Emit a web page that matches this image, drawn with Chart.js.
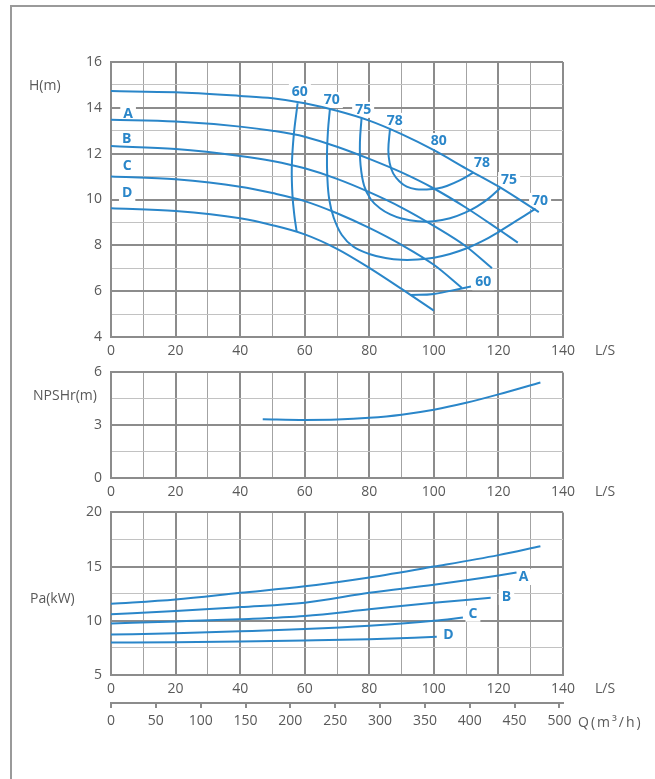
<!DOCTYPE html>
<html lang="zh">
<head>
<meta charset="UTF-8">
<title>Pump performance curves</title>
<script src="https://cdn.jsdelivr.net/npm/chart.js"></script>
<style>
  body { margin: 0; background: #fff; }
  #page { position: relative; width: 655px; height: 779px; overflow: hidden; }
  #frame { position: absolute; left: 10px; top: 5px; width: 700px; height: 800px;
           border-left: 2px solid #9a9a9a; border-top: 2px solid #9a9a9a; }
  canvas { position: absolute; left: 0; }
</style>
</head>
<body>
<div id="page">
  <div id="frame"></div>
  <canvas id="headChart" width="655" height="325" style="top:40px"></canvas>
  <canvas id="npshChart" width="655" height="151" style="top:355px"></canvas>
  <canvas id="powerChart" width="655" height="243" style="top:495px"></canvas>
</div>

<script>
// ---- head curves H(m) vs Q(L/S) ----
const headMaxQ = [0, 20, 40, 50, 60, 70, 80, 90, 100, 110, 120, 132.5];
const headMaxH = [14.73, 14.68, 14.52, 14.42, 14.2, 13.87, 13.44, 12.85, 12.15, 11.35, 10.57, 9.45];
const headAQ = [0, 20, 40, 50, 60, 70, 80, 90, 100, 110, 120, 126];
const headAH = [13.48, 13.4, 13.18, 13.0, 12.74, 12.3, 11.77, 11.18, 10.48, 9.64, 8.7, 8.12];
const headBQ = [0, 20, 40, 50, 60, 70, 80, 90, 100, 110, 118];
const headBH = [12.33, 12.2, 11.9, 11.68, 11.36, 10.9, 10.32, 9.65, 8.85, 7.95, 7.0];
const headCQ = [0, 20, 40, 50, 60, 70, 80, 90, 100, 108.7];
const headCH = [11.0, 10.88, 10.56, 10.28, 9.93, 9.4, 8.76, 8.02, 7.15, 6.14];
const headDQ = [0, 20, 40, 50, 60, 70, 80, 90, 100];
const headDH = [9.62, 9.5, 9.18, 8.88, 8.48, 7.85, 7.02, 6.1, 5.15];

// ---- iso-efficiency curves (%) ----
const eff60aQ = [57.8, 56.6, 56.0, 56.2, 56.8, 57.5];
const eff60aH = [14.2, 12.8, 11.4, 10.2, 9.3, 8.6];
const eff60bQ = [92.6, 100, 108.6, 111.5];
const eff60bH = [5.83, 5.88, 6.12, 6.2];
const eff70Q = [67.8, 67.2, 66.9, 67.0, 67.6, 69.0, 71.5, 75, 80, 85, 90, 95, 100, 105, 110, 115, 120, 125, 131.5];
const eff70H = [13.94, 13.0, 12.0, 11.0, 10.0, 9.2, 8.45, 7.95, 7.62, 7.45, 7.37, 7.38, 7.46, 7.62, 7.86, 8.18, 8.58, 9.02, 9.6];
const eff75Q = [77.6, 77.1, 77.3, 78.4, 80.5, 83.3, 86.5, 90, 95, 100, 105, 110, 113.3, 117, 120.5];
const eff75H = [13.54, 12.5, 11.5, 10.6, 10.0, 9.62, 9.35, 9.17, 9.05, 9.05, 9.18, 9.45, 9.69, 10.05, 10.49];
const eff78Q = [86.4, 85.9, 86.3, 87.4, 89.3, 91.6, 94.5, 97.8, 101, 104, 108, 112.2];
const eff78H = [13.06, 12.16, 11.6, 11.14, 10.8, 10.56, 10.45, 10.44, 10.48, 10.59, 10.83, 11.17];

const headLabels = ['60', '70', '75', '78', '80', '78', '75', '70', '60', 'A', 'B', 'C', 'D'];
const headLabelQ = [58.5, 68.4, 78.1, 87.9, 101.5, 114.9, 123.3, 132.9, 115.3, 5.3, 4.9, 5.0, 5.0];
const headLabelH = [14.69, 14.34, 13.91, 13.43, 12.55, 11.59, 10.85, 9.94, 6.39, 13.71, 12.63, 11.46, 10.28];

// ---- NPSHr ----
const npshQ = [47, 60, 70, 80, 90, 100, 110, 120, 133];
const npshH = [3.34, 3.3, 3.32, 3.42, 3.6, 3.88, 4.27, 4.75, 5.43];

// ---- shaft power Pa(kW) ----
const powMaxQ = [0, 20, 40, 60, 80, 100, 120, 133];
const powMaxP = [11.57, 11.97, 12.58, 13.18, 14.0, 15.0, 16.06, 16.88];
const powAQ = [0, 20, 40, 60, 80, 100, 120, 125.6];
const powAP = [10.6, 10.9, 11.27, 11.67, 12.58, 13.33, 14.18, 14.45];
const powBQ = [0, 20, 40, 60, 80, 100, 117.6];
const powBP = [9.76, 9.94, 10.15, 10.45, 11.06, 11.67, 12.12];
const powCQ = [0, 20, 40, 60, 80, 100, 109];
const powCP = [8.73, 8.85, 9.03, 9.24, 9.55, 10.0, 10.3];
const powDQ = [0, 20, 40, 60, 80, 100.9];
const powDP = [8.0, 8.03, 8.09, 8.18, 8.3, 8.52];

const powLabels = ['A', 'B', 'C', 'D'];
const powLabelQ = [127.8, 122.5, 112.1, 104.5];
const powLabelP = [14.04, 12.2, 10.65, 8.7];

// secondary flow axis in m3/h (140 L/S = 504 m3/h)
const cubicTicks = [0, 50, 100, 150, 200, 250, 300, 350, 400, 450, 500];

const BLUE = '#2a86c9';
const GREY_TXT = '#595959';
const FONT = "'Open Sans', 'DejaVu Sans', sans-serif";
const MAJOR = '#8c8c8c', MINOR_V = '#a3a3a3', MINOR_H = '#c2c2c2';

function curve(qs, hs, mono) {
  return {
    data: qs.map((q, i) => ({ x: q, y: hs[i] })),
    showLine: true, borderColor: BLUE, borderWidth: 2, pointRadius: 0,
    tension: 0.4, cubicInterpolationMode: mono ? 'monotone' : 'default',
    xAxisID: 'x', yAxisID: 'y'
  };
}

function flowAxis() {
  return {
    type: 'linear', min: 0, max: 140, position: 'bottom',
    afterFit: s => { s.height = 28; },
    ticks: { stepSize: 10, autoSkip: false, maxRotation: 0, padding: 6, color: GREY_TXT,
             font: { family: FONT, size: 14 }, callback: v => (v % 20 === 0 ? v : '') },
    grid: { drawTicks: false,
            color: c => (c.tick && c.tick.value % 20 === 0 ? MAJOR : MINOR_V),
            lineWidth: c => (c.tick && c.tick.value % 20 === 0 ? 2 : 1) },
    border: { color: MAJOR, width: 2 }
  };
}

function valueAxis(min, max, step, major) {
  return {
    type: 'linear', min: min, max: max,
    afterFit: s => { s.width = 40; },
    ticks: { stepSize: step, padding: 9, color: GREY_TXT, font: { family: FONT, size: 14 },
             callback: v => (Math.abs(v % major) < 1e-6 ? v : '') },
    grid: { drawTicks: false,
            color: c => (c.tick && Math.abs(c.tick.value % major) < 1e-6 ? MAJOR : MINOR_H),
            lineWidth: c => (c.tick && Math.abs(c.tick.value % major) < 1e-6 ? 2 : 1) },
    border: { color: MAJOR, width: 2 }
  };
}

// labels on the curves + axis titles
function annotations(texts, qs, vs, titles) {
  const boxes = (chart) => {
    const ctx = chart.ctx, sx = chart.scales.x, sy = chart.scales.y;
    ctx.save();
    ctx.font = 'bold 14px ' + FONT;
    texts.forEach((t, i) => {
      const x = sx.getPixelForValue(qs[i]), y = sy.getPixelForValue(vs[i]);
      const w = ctx.measureText(t).width;
      ctx.fillStyle = '#fff';
      ctx.fillRect(x - w / 2 - 3, y - 8, w + 6, 16);
    });
    ctx.restore();
  };
  return {
    id: 'annot',
    beforeDatasetsDraw(chart) { boxes(chart); },
    afterDatasetsDraw(chart) {
      const ctx = chart.ctx, sx = chart.scales.x, sy = chart.scales.y;
      ctx.save();
      ctx.font = 'bold 14px ' + FONT;
      ctx.fillStyle = BLUE;
      ctx.textAlign = 'center';
      ctx.textBaseline = 'middle';
      texts.forEach((t, i) => ctx.fillText(t, sx.getPixelForValue(qs[i]), sy.getPixelForValue(vs[i])));
      ctx.restore();
    },
    afterDraw(chart) {
      const ctx = chart.ctx;
      ctx.save();
      ctx.font = '14px ' + FONT;
      ctx.fillStyle = GREY_TXT;
      ctx.textAlign = 'left';
      ctx.textBaseline = 'middle';
      titles(chart).forEach(t => {
        if (t.spacing) ctx.letterSpacing = t.spacing;
        ctx.fillText(t.text, t.x, t.y);
        ctx.letterSpacing = '0px';
      });
      ctx.restore();
    }
  };
}

const baseOpts = {
  responsive: false, animation: false,
  plugins: { legend: { display: false }, tooltip: { enabled: false } }
};

// head chart
new Chart(document.getElementById('headChart'), {
  type: 'scatter',
  data: { datasets: [
    curve(headMaxQ, headMaxH, true), curve(headAQ, headAH, true), curve(headBQ, headBH, true),
    curve(headCQ, headCH, true), curve(headDQ, headDH, true),
    curve(eff60aQ, eff60aH), curve(eff60bQ, eff60bH), curve(eff70Q, eff70H),
    curve(eff75Q, eff75H), curve(eff78Q, eff78H)
  ] },
  options: Object.assign({}, baseOpts, {
    layout: { padding: { top: 22, left: 71, right: 92, bottom: 0 } },
    scales: { x: flowAxis(), y: valueAxis(4, 16, 1, 2) }
  }),
  plugins: [annotations(headLabels, headLabelQ, headLabelH, ch => [
    { text: 'H(m)', x: 29, y: 46 },
    { text: 'L/S', x: 595, y: ch.scales.x.top + 14 }
  ])]
});

// NPSHr chart
new Chart(document.getElementById('npshChart'), {
  type: 'scatter',
  data: { datasets: [curve(npshQ, npshH, true)] },
  options: Object.assign({}, baseOpts, {
    layout: { padding: { top: 14, left: 71, right: 92, bottom: 0 } },
    scales: { x: flowAxis(), y: valueAxis(0, 6, 1.5, 3) }
  }),
  plugins: [annotations([], [], [], ch => [
    { text: 'NPSHr(m)', x: 33, y: 41 },
    { text: 'L/S', x: 595, y: ch.scales.x.top + 14 }
  ])]
});

// power chart with secondary Q(m3/h) axis
const powerX = flowAxis();
powerX.weight = 0;
new Chart(document.getElementById('powerChart'), {
  type: 'scatter',
  data: { datasets: [
    curve(powMaxQ, powMaxP, true), curve(powAQ, powAP, true), curve(powBQ, powBP, true),
    curve(powCQ, powCP, true), curve(powDQ, powDP, true)
  ] },
  options: Object.assign({}, baseOpts, {
    layout: { padding: { top: 15, left: 71, right: 92, bottom: 0 } },
    scales: {
      x: powerX,
      x2: {
        type: 'linear', position: 'bottom', min: 0, max: 504, weight: 1,
        afterBuildTicks: s => { s.ticks = cubicTicks.map(v => ({ value: v })); },
        afterFit: s => { s.height = 35; },
        ticks: { autoSkip: false, maxRotation: 0, padding: 5, color: GREY_TXT,
                 font: { family: FONT, size: 14 } },
        grid: { drawOnChartArea: false, drawTicks: true, tickLength: 5, color: MAJOR, lineWidth: 2 },
        border: { color: MAJOR, width: 2 }
      },
      y: valueAxis(5, 20, 2.5, 5)
    }
  }),
  plugins: [annotations(powLabels, powLabelQ, powLabelP, ch => [
    { text: 'Pa(kW)', x: 30, y: 104 },
    { text: 'L/S', x: 595, y: ch.scales.x.top + 14 },
    { text: 'Q(m³/h)', x: 578, y: ch.scales.x2.top + 20, spacing: '2px' }
  ])]
});
</script>
</body>
</html>
